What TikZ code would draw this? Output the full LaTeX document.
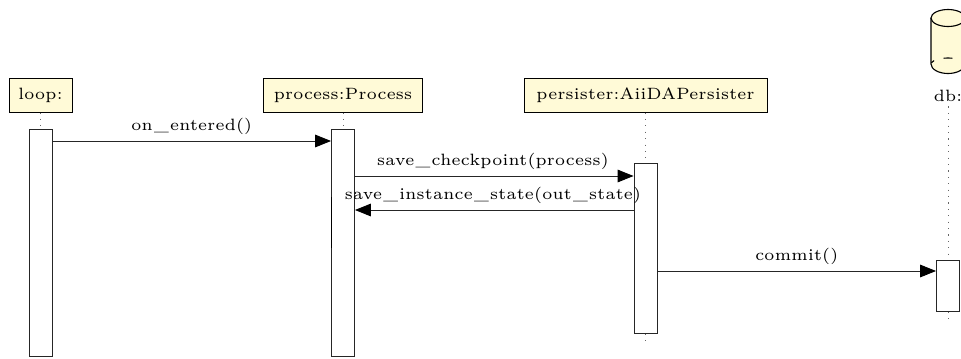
\documentclass[tikz,border=0pt]{standalone}
\usepackage{fontspec}
\setmainfont{lmroman6-regular.otf}[LetterSpace=1.5]
\usetikzlibrary{arrows.meta}
\definecolor{actorfill}{RGB}{255,250,215}
\newcommand{\usc}{\kern1pt\_\kern1pt}
\tikzset{
  x=0.75pt,y=-0.75pt,
  every node/.style={font=\fontsize{12.3}{15}\selectfont},
  actor/.style={draw=black,fill=actorfill,line width=0.75pt,inner sep=0pt,minimum height=25.5pt,text height=8pt,text depth=2pt,anchor=center},
  activation/.style={draw=black!85,fill=white,line width=0.7pt,inner sep=0pt,minimum width=17.25pt,anchor=north},
  lifeline/.style={draw=black!60,line width=0.5pt,dash pattern=on 0.8pt off 4pt},
  message/.style={draw=black!85,line width=0.7pt,-{Triangle[length=12pt,width=9.5pt,black]}},
  msglabel/.style={inner sep=0pt,anchor=base,yshift=8pt},
  cyl/.style={line width=0.85pt}
}
\begin{document}
\begin{tikzpicture}
\useasboundingbox (0,0) rectangle (961,358);
\begin{scope}
\clip (0,0) rectangle (961,358);
% actors
\node[actor,minimum width=47.25pt] (loop) at (40.5,95) {loop:};
\node[actor,minimum width=119.25pt] (process) at (343,95) {process:Process};
\node[actor,minimum width=182.25pt] (persister) at (645.5,95) {persister:AiiDAPersister};
\node[inner sep=0pt,anchor=base] (db) at (948,101) {db:};
% cylinder
\coordinate (cyl) at (948,18);
\path[fill=actorfill] (931,18) -- (931,64) arc[start angle=180,end angle=360,x radius=17,y radius=-9.5] -- (965,18) -- cycle;
\draw[cyl] (931,18) -- (931,64) arc[start angle=180,end angle=360,x radius=17,y radius=-9.5] -- (965,18);
\draw[cyl,fill=actorfill] (cyl) ellipse[x radius=17,y radius=8.5];
\draw[cyl] (948,64) ++(168:17 and -6) arc[start angle=168,end angle=145,x radius=17,y radius=-6];
\draw[cyl] (948,64) ++(105:17 and -6) arc[start angle=105,end angle=75,x radius=17,y radius=-6];
\draw[cyl] (948,64) ++(35:17 and -6) arc[start angle=35,end angle=12,x radius=17,y radius=-6];
% activations
\node[activation,minimum height=170.25pt] (aloop) at (40.5,129) {};
\node[activation,minimum height=170.25pt] (aproc) at (343,129) {};
\node[activation,minimum height=127.5pt] (apers) at (645.5,163) {};
\node[activation,minimum height=38.25pt] (adb) at (948,260) {};
% nested activation edge on the process bar
\coordinate (nesttop) at (331.5,197);
\coordinate (nestbot) at (331.5,248);
\draw[line width=0.4pt,black] (nesttop) -- (nestbot);
% lifelines
\coordinate (endpers) at (645.5,346);
\coordinate (enddb) at (948,324);
\draw[lifeline] (loop.south) -- (aloop.north);
\draw[lifeline] (process.south) -- (aproc.north);
\draw[lifeline] (persister.south) -- (apers.north);
\draw[lifeline] (apers.south) -- (endpers);
\draw[lifeline] (db.south) ++(0,5) -- (adb.north);
\draw[lifeline] (adb.south) -- (enddb);
% messages
\draw[message] (aloop.north east |- 0,141) -- node[msglabel] {on\usc entered()} (aproc.north west |- 0,141);
\draw[message] (aproc.north east |- 0,176) -- node[msglabel,xshift=-1pt] {save\usc checkpoint(process)} (apers.north west |- 0,176);
\draw[message] (apers.north west |- 0,210) -- node[msglabel,xshift=-1pt] {save\usc instance\usc state(out\usc state)} (aproc.north east |- 0,210);
\draw[message] (apers.north east |- 0,271) -- node[msglabel] {commit()} (adb.north west |- 0,271);
\end{scope}
\end{tikzpicture}
\end{document}
